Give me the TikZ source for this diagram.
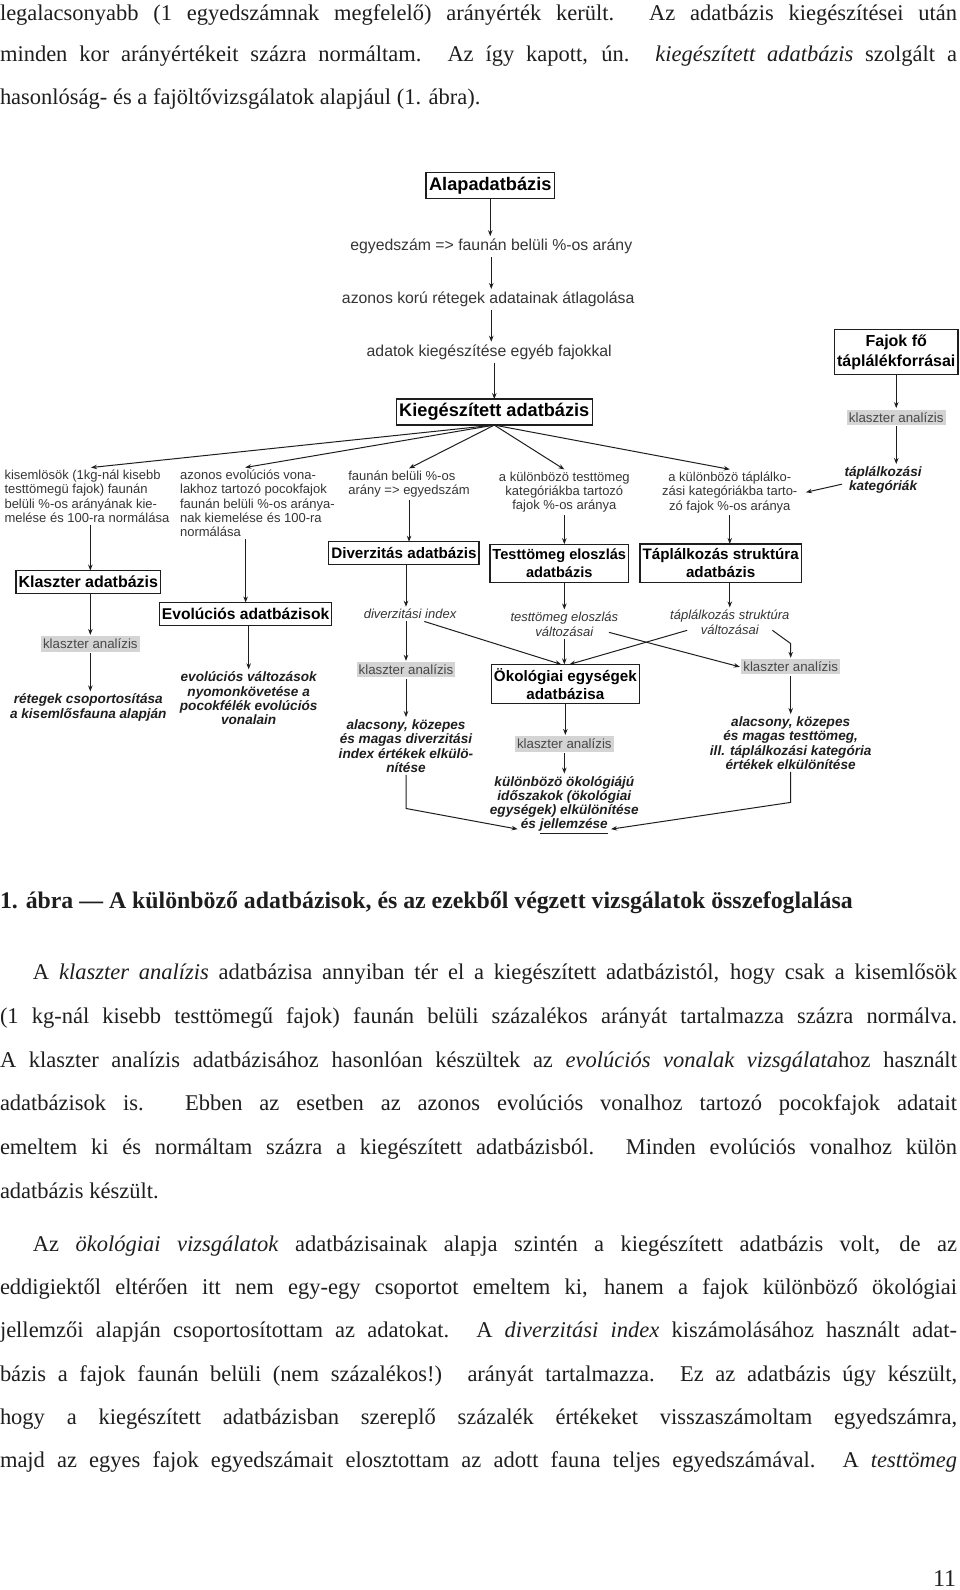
\documentclass[tikz,border=0pt]{standalone}
\usepackage{fontspec}
\setmainfont{Liberation Serif}
\newfontfamily\dsans{Liberation Sans}
\usetikzlibrary{arrows.meta,calc}
\definecolor{ink}{HTML}{1E1E1E}
\definecolor{txt}{HTML}{353535}
\definecolor{kbg}{HTML}{D4D4D4}
\definecolor{kt}{HTML}{484848}
\begin{document}
\begin{tikzpicture}[x=1.015pt,y=-1.015pt,
  every node/.style={inner sep=0pt, outer sep=0pt},
  body/.style={anchor=base west, text=ink, font=\fontsize{22.5}{22.5}\selectfont},
  topbox/.style={draw=ink, line width=1.3pt, inner xsep=3pt, inner ysep=4.4pt, text=black, font=\dsans\bfseries\fontsize{18.2}{19}\selectfont},
  dbbox/.style={draw=ink, line width=1.3pt, inner xsep=2.5pt, inner ysep=5.8pt, align=center, text=black, font=\dsans\bfseries\fontsize{15.2}{18.3}\selectfont},
  dbtwo/.style={dbbox, inner ysep=4.6pt},
  steptxt/.style={outer sep=3pt, text=txt, font=\dsans\fontsize{15.8}{17}\selectfont},
  small/.style={outer sep=2.5pt, text=txt, font=\dsans\fontsize{13}{14.3}\selectfont},
  kbox/.style={fill=kbg, inner xsep=2pt, inner ysep=2.6pt, outer sep=1.5pt, text=kt, font=\dsans\fontsize{13.3}{14.5}\selectfont},
  res/.style={outer sep=2.5pt, align=center, text=ink, font=\dsans\bfseries\itshape\fontsize{13.6}{14.3}\selectfont},
  vit/.style={outer sep=2.5pt, align=center, text=txt, font=\dsans\itshape\fontsize{13}{14.8}\selectfont},
  arr/.style={draw=ink, line width=1pt, -{Stealth[length=6pt,width=4.5pt]}},
]
\useasboundingbox (0,0) rectangle (945.81,1566.5);
\fill[white] (0,0) rectangle (945.81,1566.5);

% ---- text above the figure
\node[body] (p1) at (0,20) {\makebox[957pt][s]{legalacsonyabb (1 egyedszámnak megfelelő) arányérték került. Az adatbázis kiegészítései után}};
\node[body] (p2) at (0,61) {\makebox[957pt][s]{minden kor arányértékeit százra normáltam. Az így kapott, ún. \textit{kiegészített adatbázis} szolgált a}};
\node[body] (p3) at (0,103) {hasonlóság- és a fajöltővizsgálatok alapjául (1. ábra).};

% ---- diagram
\node[topbox] (alap) at (483,183) {Alapadatbázis};
\node[steptxt] (s1) at (484,243) {egyedszám => faunán belüli \%-os arány};
\node[steptxt] (s2) at (481,295) {azonos korú rétegek adatainak átlagolása};
\node[steptxt] (s3) at (482,347) {adatok kiegészítése egyéb fajokkal};
\node[topbox] (kieg) at (487,406) {Kiegészített adatbázis};

\node[dbbox, inner ysep=5.3pt, font=\dsans\bfseries\fontsize{16}{19.3}\selectfont] (fajok) at (883,347) {Fajok fő\\táplálékforrásai};
\node[kbox] (ka0) at (883,411) {klaszter analízis};
\node[res] (tk) at (870,473) {táplálkozási\\kategóriák};

\node[small, align=left, anchor=west] (t1) at (2,489) {kisemlösök (1kg-nál kisebb\\testtömegü fajok) faunán\\belüli \%-os arányának kie-\\melése és 100-ra normálása};
\node[small, align=left, anchor=west] (t2) at (175,496) {azonos evolúciós vona-\\lakhoz tartozó pocokfajok\\faunán belüli \%-os aránya-\\nak kiemelése és 100-ra\\normálása};
\node[small, align=left] (t3) at (403,477) {faunán belüli \%-os\\arány => egyedszám};
\node[small, align=center] (t4) at (556,485) {a különbözö testtömeg\\kategóriákba tartozó\\fajok \%-os aránya};
\node[small, align=center] (t5) at (719,485) {a különbözö táplálko-\\zási kategóriákba tarto-\\zó fajok \%-os aránya};

\node[dbbox, font=\dsans\bfseries\fontsize{16}{18.3}\selectfont, inner ysep=5.6pt] (kdb) at (87,573.5) {Klaszter adatbázis};
\node[dbbox, font=\dsans\bfseries\fontsize{15.6}{18.3}\selectfont] (edb) at (242,605) {Evolúciós adatbázisok};
\node[dbbox] (ddb) at (398,545) {Diverzitás adatbázis};
\node[dbtwo, font=\dsans\bfseries\fontsize{14.6}{18.3}\selectfont] (tdb) at (551,555) {Testtömeg eloszlás\\adatbázis};
\node[dbtwo] (pdb) at (710,555) {Táplálkozás struktúra\\adatbázis};

\node[kbox] (ka1) at (89,634.5) {klaszter analízis};
\node[res] (r1) at (87,697) {rétegek csoportosítása\\a kisemlősfauna alapján};
\node[res] (r2) at (245,688) {evolúciós változások\\nyomonkövetése a\\pocokfélék evolúciós\\vonalain};

\node[vit] (di) at (404,605) {diverzitási index};
\node[kbox] (ka2) at (400,660) {klaszter analízis};
\node[res] (r3) at (400,735) {alacsony, közepes\\és magas diverzitási\\index értékek elkülö-\\nítése};

\node[vit] (tv) at (556,615) {testtömeg eloszlás\\változásai};
\node[vit] (pv) at (719,613) {táplálkozás struktúra\\változásai};
\node[dbtwo, inner ysep=4pt] (odb) at (557,674) {Ökológiai egységek\\adatbázisa};
\node[kbox] (ka3) at (556,733) {klaszter analízis};
\node[res] (r4) at (556,793) {különbözö ökológiájú\\időszakok (ökológiai\\egységek) elkülönítése\\és \underline{jellemzése}};
\node[kbox] (ka4) at (779,657) {klaszter analízis};
\node[res] (r5) at (779,732) {alacsony, közepes\\és magas testtömeg,\\ill. táplálkozási kategória\\értékek elkülönítése};

% ---- connectors
\draw[arr] (alap.south) -- (alap.south |- s1.north);
\draw[arr] (s1.south) -- (s1.south |- s2.north);
\draw[arr] (s2.south -| s1.south) -- (s1.south |- s3.north);
\draw[arr] (s3.south -| kieg.north) -- (kieg.north);
\draw[arr] (fajok.south) -- (fajok.south |- ka0.north);
\draw[arr] (ka0.south) -- (ka0.south |- tk.north);
\draw[arr] ($(tk.west)+(0,4)$) -- ($(t5.east)+(6,0)$);

\draw[arr] (kieg.south) -- ($(t1.north)+(4,0)$);
\draw[arr] (kieg.south) -- ($(t2.north)+(-12,0)$);
\draw[arr] (kieg.south) -- (t3.north);
\draw[arr] (kieg.south) -- (t4.north);
\draw[arr] (kieg.south) -- (t5.north);

\draw[arr] (t1.south -| ka1.north) -- (ka1.north |- kdb.north);
\draw[arr] (t2.south -| edb.north) -- (edb.north);
\draw[arr] (t3.south) -- (t3.south |- ddb.north);
\draw[arr] (t4.south) -- (t4.south |- tdb.north);
\draw[arr] (t5.south) -- (t5.south |- pdb.north);

\draw[arr] (ka1.north |- kdb.south) -- (ka1.north);
\draw[arr] (ka1.south) -- (ka1.south |- r1.north);
\draw[arr] (r2.north |- edb.south) -- (r2.north);
\draw[arr] (ka2.north |- ddb.south) -- (ka2.north |- di.north);
\draw[arr] (ka2.north |- di.south) -- (ka2.north);
\draw[arr] (ka2.south) -- (ka2.south |- r3.north);
\draw[arr] (r3.south) -- ($(r3.south)+(0,33)$) -- ($(r4.south)+(-46,-7)$);

\draw[arr] (tv.north |- tdb.south) -- (tv.north);
\draw[arr] (tv.south) -- (tv.south |- odb.north);
\draw[arr] ($(di.south)+(14,0)$) -- ($(odb.north)+(-4,0)$);
\draw[arr] ($(pv.center)+(-42,8)$) -- ($(odb.north)+(4,0)$);
\draw[arr] ($(tv.center)+(44,8)$) -- (ka4.west);
\draw[arr] (pdb.south -| pv.north) -- (pv.north);
\draw[arr] ($(pv.center)+(42,8)$) -- ($(ka4.north)+(0,-14)$) -- (ka4.north);

\draw[arr] (odb.south) -- (odb.south |- ka3.north);
\draw[arr] (ka3.south) -- (ka3.south |- r4.north);
\draw[arr] (r5.north |- ka4.south) -- (r5.north);
\draw[arr] (r5.south) -- ($(r5.south)+(0,30)$) -- ($(r4.south)+(46,-7)$);

% ---- caption
\node[body, font=\bfseries\fontsize{23.8}{24}\selectfont] (cap) at (0,895.5) {1. ábra — A különböző adatbázisok, és az ezekből végzett vizsgálatok összefoglalása};

% ---- text below the figure
\node[body] (q1) at (32.5,965.5) {\makebox[924pt][s]{A \textit{klaszter analízis} adatbázisa annyiban tér el a kiegészített adatbázistól, hogy csak a kisemlősök}};
\node[body] (q2) at (0,1008.5) {\makebox[957pt][s]{(1 kg-nál kisebb testtömegű fajok) faunán belüli százalékos arányát tartalmazza százra normálva.}};
\node[body] (q3) at (0,1051.5) {\makebox[957pt][s]{A klaszter analízis adatbázisához hasonlóan készültek az \textit{evolúciós vonalak vizsgálata}hoz használt}};
\node[body] (q4) at (0,1094.5) {\makebox[957pt][s]{adatbázisok is. Ebben az esetben az azonos evolúciós vonalhoz tartozó pocokfajok adatait}};
\node[body] (q5) at (0,1137.5) {\makebox[957pt][s]{emeltem ki és normáltam százra a kiegészített adatbázisból. Minden evolúciós vonalhoz külön}};
\node[body] (q6) at (0,1180.5) {adatbázis készült.};

\node[body] (u1) at (32.5,1233.4) {\makebox[924pt][s]{Az \textit{ökológiai vizsgálatok} adatbázisainak alapja szintén a kiegészített adatbázis volt, de az}};
\node[body] (u2) at (0,1275.8) {\makebox[957pt][s]{eddigiektől eltérően itt nem egy-egy csoportot emeltem ki, hanem a fajok különböző ökológiai}};
\node[body] (u3) at (0,1318.2) {\makebox[957pt][s]{jellemzői alapján csoportosítottam az adatokat. A \textit{diverzitási index} kiszámolásához használt adat-}};
\node[body] (u4) at (0,1360.6) {\makebox[957pt][s]{bázis a fajok faunán belüli (nem százalékos!) arányát tartalmazza. Ez az adatbázis úgy készült,}};
\node[body] (u5) at (0,1403) {\makebox[957pt][s]{hogy a kiegészített adatbázisban szereplő százalék értékeket visszaszámoltam egyedszámra,}};
\node[body] (u6) at (0,1445.4) {\makebox[957pt][s]{majd az egyes fajok egyedszámait elosztottam az adott fauna teljes egyedszámával. A \textit{testtömeg}}};

\node[body, anchor=base east, font=\fontsize{24}{24}\selectfont] (pg) at (942,1563) {11};
\end{tikzpicture}
\end{document}
